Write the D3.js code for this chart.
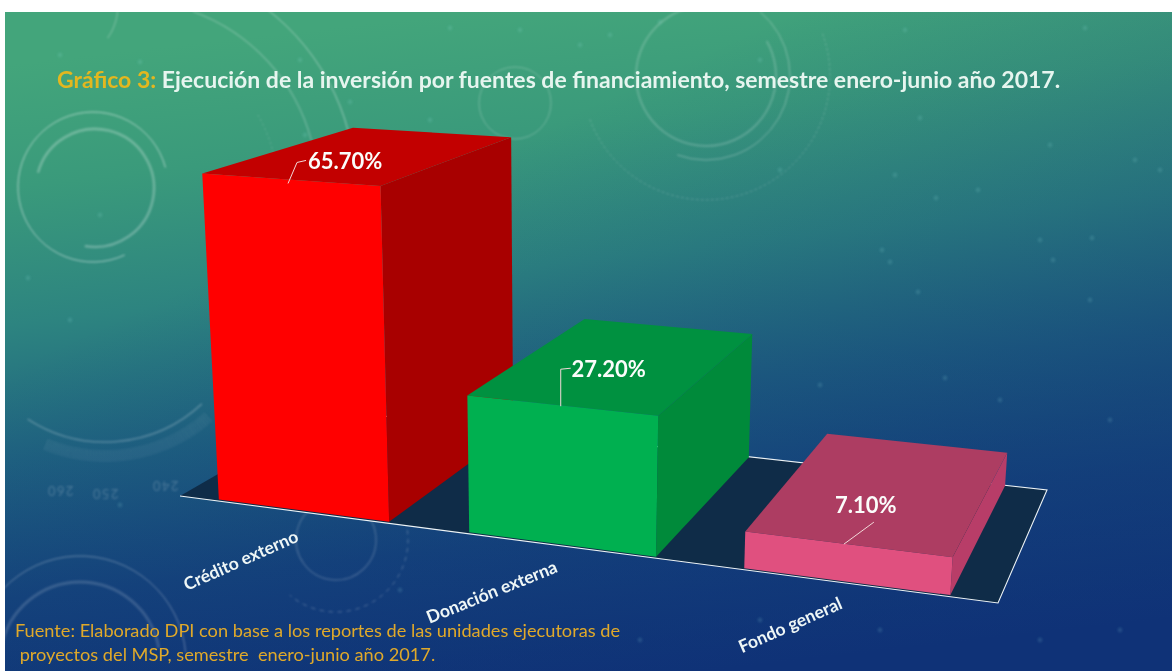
<!DOCTYPE html>
<html>
<head>
<meta charset="utf-8">
<script src="https://cdn.jsdelivr.net/npm/d3@7"></script>
<style>
  html, body { margin: 0; padding: 0; background: white; }
  svg { display: block; }
  text { font-family: Lato, "Open Sans", sans-serif; }
</style>
</head>
<body>
<div id="chart"></div>
<script>
// chart data
const categories = ["Crédito externo", "Donación externa", "Fondo general"];
const values = [65.7, 27.2, 7.1];
const valueLabels = ["65.70%", "27.20%", "7.10%"];

const frontColors = ["#ff0000", "#00b050", "#e0507f"];
const sideColors = ["#a80000", "#008a3a", "#b83d68"];
const topColors = ["#c20000", "#009140", "#ad3d62"];

const titleLead = "Gráfico 3:";
const titleRest = " Ejecución de la inversión por fuentes de financiamiento, semestre enero-junio año 2017.";
const sourceLines = [
    "Fuente: Elaborado DPI con base a los reportes de las unidades ejecutoras de",
    " proyectos del MSP, semestre  enero-junio año 2017."
];

// background decoration: [cx, cy, r, startDeg, endDeg, width, opacity, dash]
const decoArcs = [
    [93, 187, 75, 155, 435, 1, .3, ""],
    [95, 188, 59, -75, 190, 2.5, .28, ""],
    [60, 5, 58, 20, 125, 1.2, .25, ""],
    [128, 190, 190, 20, 75, 1.1, .3, ""],
    [128, 190, 228, 20, 75, 1, .25, ""],
    [128, 190, 150, 60, 110, 1, .12, "2 3"],
    [515, 103, 36, 0, 360, 1, .14, ""],
    [706, 76, 70, 60, 350, 2, .2, ""],
    [706, 76, 84, 40, 200, 1, .18, ""],
    [706, 76, 124, 70, 250, 1, .16, "2 3"],
    [105, 300, 142, 137, 213, 1.5, .25, ""],
    [336, 540, 40, 40, 330, 1.5, .18, ""],
    [336, 540, 72, 60, 220, 1, .16, "4 5"],
    [80, 662, 80, -80, 80, 3, .16, ""],
    [80, 662, 106, -90, 85, 1, .18, ""]
];
const decoNumbers = [["260", 60, 486], ["250", 105, 489], ["240", 165, 481]];
const specks = [
    [450, 28], [520, 30], [580, 45], [60, 55], [140, 62], [300, 60], [350, 102], [430, 120],
    [70, 320], [100, 215], [28, 278], [305, 135], [120, 505], [520, 80], [610, 35], [660, 22],
    [760, 60], [905, 30], [1085, 28], [920, 118], [895, 175], [936, 198], [978, 190], [1040, 240],
    [1092, 238], [1135, 160], [1160, 170], [1050, 145], [882, 250], [890, 262], [1053, 260],
    [918, 292], [1090, 300], [780, 170], [820, 385], [945, 378], [1000, 400], [1110, 420],
    [760, 620], [880, 630], [1040, 640], [1120, 630], [560, 470], [640, 640], [400, 590]
];
const tickAngles = d3.range(60);

const width = 1172;
const height = 671;

const svg = d3.select("#chart").append("svg")
    .attr("width", width)
    .attr("height", height);

const defs = svg.append("defs");

// background gradient
const bgGradient = defs.append("linearGradient")
    .attr("id", "bg-gradient")
    .attr("x1", "0.40").attr("y1", "0")
    .attr("x2", "0.60").attr("y2", "1");
[["0%", "#43a57b"], ["18%", "#3a9a7b"], ["38%", "#2d8480"], ["58%", "#1f6280"], ["78%", "#15457c"], ["100%", "#0f3277"]]
    .forEach(s => bgGradient.append("stop").attr("offset", s[0]).attr("stop-color", s[1]));

// the right side goes blue sooner, but stays green along the top
const rightShade = defs.append("linearGradient")
    .attr("id", "right-shade")
    .attr("x1", "0.55").attr("y1", "0.1")
    .attr("x2", "0.95").attr("y2", "0.6");
rightShade.append("stop").attr("offset", "0%").attr("stop-color", "#0f3277").attr("stop-opacity", 0);
rightShade.append("stop").attr("offset", "100%").attr("stop-color", "#0f3277").attr("stop-opacity", .38);

defs.append("filter").attr("id", "soft")
    .append("feGaussianBlur").attr("stdDeviation", 0.8);
defs.append("clipPath").attr("id", "bg-clip")
    .append("rect").attr("x", 5).attr("y", 12).attr("width", width - 5).attr("height", height - 12);

const bg = svg.append("g").attr("clip-path", "url(#bg-clip)");
bg.append("rect").attr("x", 5).attr("y", 12).attr("width", width - 5).attr("height", height - 12)
    .attr("fill", "url(#bg-gradient)");
bg.append("rect").attr("x", 5).attr("y", 12).attr("width", width - 5).attr("height", height - 12)
    .attr("fill", "url(#right-shade)");

const deco = bg.append("g").attr("filter", "url(#soft)");
const arcGen = d3.arc();
deco.selectAll("path.deco")
    .data(decoArcs)
    .enter().append("path")
    .attr("class", "deco")
    .attr("transform", d => `translate(${d[0]},${d[1]})`)
    .attr("d", d => arcGen({
        innerRadius: d[2], outerRadius: d[2],
        startAngle: d[3] * Math.PI / 180, endAngle: d[4] * Math.PI / 180
    }))
    .attr("fill", "none")
    .attr("stroke", "white")
    .attr("stroke-width", d => d[5])
    .attr("stroke-opacity", d => d[6])
    .attr("stroke-dasharray", d => d[7]);

// dial ticks on the lower left
deco.selectAll("line.dial")
    .data(tickAngles)
    .enter().append("line")
    .attr("class", "dial")
    .attr("transform", d => `translate(105,300) rotate(${22 - d * 1.07})`)
    .attr("x1", 0).attr("x2", 0)
    .attr("y1", 150).attr("y2", 162)
    .attr("stroke", "white")
    .attr("stroke-opacity", .14);

deco.selectAll("text.dial-num")
    .data(decoNumbers)
    .enter().append("text")
    .attr("class", "dial-num")
    .attr("transform", d => `translate(${d[1]},${d[2]}) rotate(180)`)
    .attr("text-anchor", "middle")
    .attr("font-size", 13)
    .attr("letter-spacing", 1.5)
    .attr("fill", "white")
    .attr("fill-opacity", .2)
    .text(d => d[0]);

deco.selectAll("circle.speck")
    .data(specks)
    .enter().append("circle")
    .attr("class", "speck")
    .attr("cx", d => d[0]).attr("cy", d => d[1])
    .attr("r", 2.4)
    .attr("fill", "#9fe0e0")
    .attr("fill-opacity", .14);

// camera: floor corners on screen and vanishing point of the verticals
const floorQuad = [[180, 496], [998, 603], [1047, 490], [329, 410]];
const verticalVP = [560, 7200];

function squareToQuad(q) {
    const [[x0, y0], [x1, y1], [x2, y2], [x3, y3]] = q;
    const dx1 = x1 - x2, dx2 = x3 - x2, sx = x0 - x1 + x2 - x3;
    const dy1 = y1 - y2, dy2 = y3 - y2, sy = y0 - y1 + y2 - y3;
    const den = dx1 * dy2 - dx2 * dy1;
    const g = (sx * dy2 - dx2 * sy) / den;
    const h = (dx1 * sy - sx * dy1) / den;
    return {
        a: x1 - x0 + g * x1, b: x3 - x0 + h * x3, c: x0,
        d: y1 - y0 + g * y1, e: y3 - y0 + h * y3, f: y0,
        g: g, h: h
    };
}
const H = squareToQuad(floorQuad);

// x axis across the floor, y axis into the floor, z axis up
const uScale = d3.scaleBand()
    .domain(categories)
    .range([0, 1])
    .paddingInner(0.31)
    .paddingOuter(0.155);
const vScale = d3.scaleLinear().domain([0, 1]).range([0.012, 0.995]);
const zScale = d3.scaleLinear().domain([0, 70]).range([0, 0.0492]);

function project(u, v, value) {
    const t = zScale(value);
    const w = H.g * u + H.h * v + 1 - t;
    return [
        (H.a * u + H.b * v + H.c - t * verticalVP[0]) / w,
        (H.d * u + H.e * v + H.f - t * verticalVP[1]) / w
    ];
}

const line = d3.line();

// floor, only the front and far edges carry the white line
svg.append("path")
    .attr("d", line(floorQuad) + "Z")
    .attr("fill", "#0f2c48");
svg.append("path")
    .attr("d", line(floorQuad.slice(0, 4)))
    .attr("fill", "none")
    .attr("stroke", "#eef4f6")
    .attr("stroke-width", 1.1)
    .attr("stroke-linejoin", "miter");

// bars
const bars = svg.selectAll("g.bar")
    .data(categories)
    .enter().append("g")
    .attr("class", "bar");

function barCorners(cat, i) {
    const u0 = uScale(cat), u1 = u0 + uScale.bandwidth();
    const v0 = vScale(0), v1 = vScale(1);
    return {
        fl: project(u0, v0, 0), fr: project(u1, v0, 0), br: project(u1, v1, 0),
        tfl: project(u0, v0, values[i]), tfr: project(u1, v0, values[i]),
        tbr: project(u1, v1, values[i]), tbl: project(u0, v1, values[i])
    };
}

bars.append("path")
    .attr("d", (d, i) => { const c = barCorners(d, i); return line([c.fr, c.br, c.tbr, c.tfr]) + "Z"; })
    .attr("fill", (d, i) => sideColors[i]);
bars.append("path")
    .attr("d", (d, i) => { const c = barCorners(d, i); return line([c.tfl, c.tfr, c.tbr, c.tbl]) + "Z"; })
    .attr("fill", (d, i) => topColors[i]);
bars.append("path")
    .attr("d", (d, i) => { const c = barCorners(d, i); return line([c.fl, c.fr, c.tfr, c.tfl]) + "Z"; })
    .attr("fill", (d, i) => frontColors[i]);

// category labels, hanging off the front edge
const catAngle = [-24, -22, -24];
const catDrop = [29, 26, 25];
svg.selectAll("text.cat")
    .data(categories)
    .enter().append("text")
    .attr("class", "cat")
    .attr("transform", (d, i) => {
        const p = project(uScale(d) + uScale.bandwidth() / 2, 0, 0);
        return `translate(${p[0] - 1},${p[1] + catDrop[i]}) rotate(${catAngle[i]})`;
    })
    .attr("text-anchor", "end")
    .attr("font-size", 17.6)
    .attr("font-weight", 700)
    .attr("fill", "#eef6f6")
    .text(d => d);

// value labels and their leader lines, placed relative to the centre of the bar top
const labelShift = [[-20, 15], [-9, 14], [-18, 23]];
const leaderPts = [
    [[-57, 14], [-48, -7], [-39, -9]],
    [[-48, 29], [-48, -8], [-38, -9]],
    [[-22, 31], [8, 9]]
];
const valueG = svg.selectAll("g.value")
    .data(categories)
    .enter().append("g")
    .attr("class", "value")
    .attr("transform", (d, i) => {
        const p = project(uScale(d) + uScale.bandwidth() / 2, 0.5, values[i]);
        return `translate(${p[0] + labelShift[i][0]},${p[1] + labelShift[i][1]})`;
    });
valueG.append("path")
    .attr("d", (d, i) => line(leaderPts[i]))
    .attr("fill", "none")
    .attr("stroke", "#f3d9d9")
    .attr("stroke-width", 1);
valueG.append("text")
    .attr("text-anchor", "middle")
    .attr("font-size", 22)
    .attr("font-weight", 700)
    .attr("fill", "#fbfdfb")
    .text((d, i) => valueLabels[i]);

// title
const title = svg.append("text")
    .attr("x", 57)
    .attr("y", 88)
    .attr("font-size", 23)
    .attr("font-weight", 700);
title.append("tspan").attr("fill", "#e3b71f").text(titleLead);
title.append("tspan").attr("fill", "#e6f5ef").attr("xml:space", "preserve").text(titleRest);

// source note
svg.selectAll("text.source")
    .data(sourceLines)
    .enter().append("text")
    .attr("class", "source")
    .attr("x", 15)
    .attr("y", (d, i) => 637 + i * 24)
    .attr("xml:space", "preserve")
    .attr("font-size", 18.2)
    .attr("fill", "#e0a92a")
    .text(d => d);
</script>
</body>
</html>
